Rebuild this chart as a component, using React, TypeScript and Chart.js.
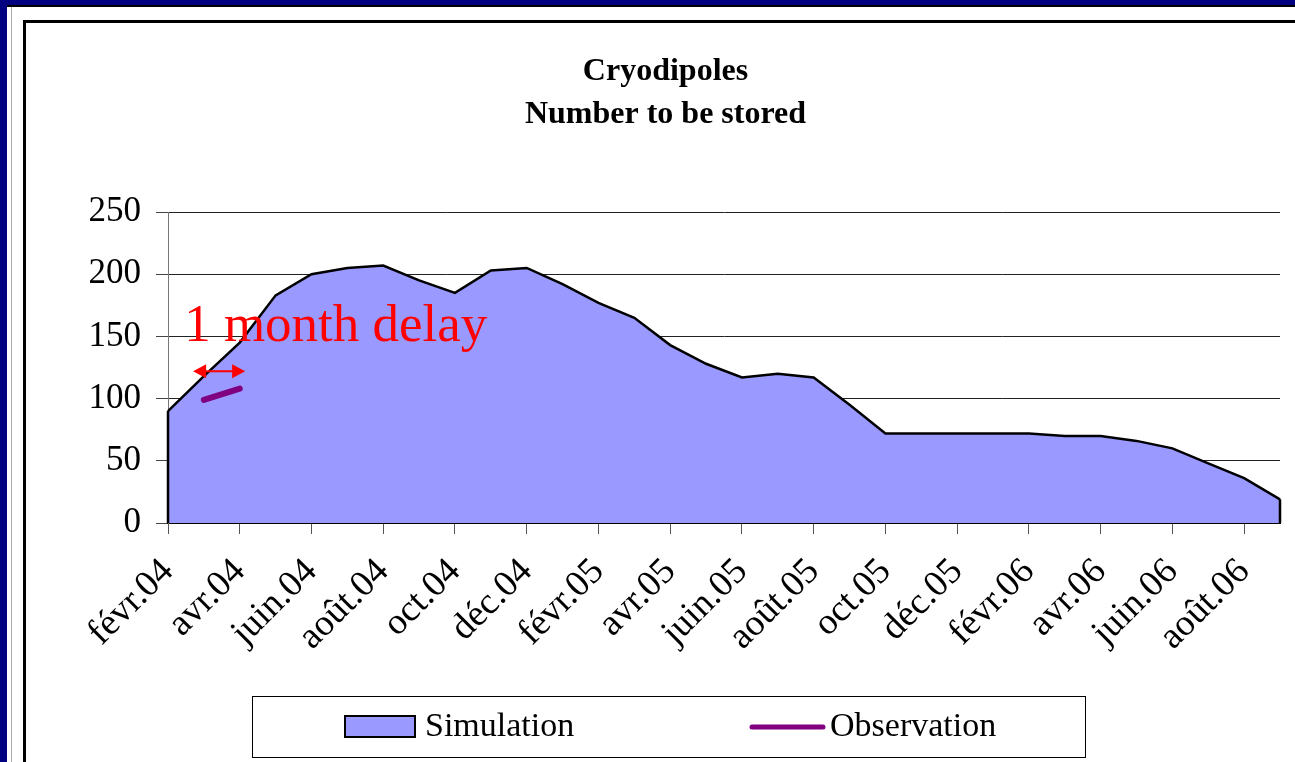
import React, { useEffect, useRef } from 'react';
import { Chart, registerables } from 'chart.js';

Chart.register(...registerables);

const months = [
  'févr.04', 'mars.04', 'avr.04', 'mai.04', 'juin.04', 'juil.04', 'août.04', 'sept.04',
  'oct.04', 'nov.04', 'déc.04', 'janv.05', 'févr.05', 'mars.05', 'avr.05', 'mai.05',
  'juin.05', 'juil.05', 'août.05', 'sept.05', 'oct.05', 'nov.05', 'déc.05', 'janv.06',
  'févr.06', 'mars.06', 'avr.06', 'mai.06', 'juin.06', 'juil.06', 'août.06', 'sept.06',
];

const simulation = [
  90, 118, 145, 183, 200, 205, 207, 195, 185, 203, 205, 192, 177, 165, 143, 128,
  117, 120, 117, 95, 72, 72, 72, 72, 72, 70, 70, 66, 60, 48, 36, 19,
];

const observation: (number | null)[] = [
  null, 99, 108, null, null, null, null, null, null, null, null, null, null, null, null, null,
  null, null, null, null, null, null, null, null, null, null, null, null, null, null, null, null,
];

const yMin = 0;
const yMax = 250;
const yStep = 50;

const titleLines = ['Cryodipoles', 'Number to be stored'];
const seriesNames = ['Simulation', 'Observation'];
const noteText = '1 month delay';

const SERIF = "'Liberation Serif', 'Times New Roman', serif";
const AREA_FILL = '#9999FF';
const OBS_COLOR = '#800080';

const edgePlugin = {
  id: 'areaEdges',
  afterDatasetsDraw(chart: any) {
    const meta = chart.getDatasetMeta(1);
    const pts = meta.data;
    if (!pts || !pts.length) return;
    const y0 = chart.scales.y.getPixelForValue(0);
    const ctx = chart.ctx;
    ctx.save();
    ctx.strokeStyle = '#000';
    ctx.lineWidth = 2.5;
    ctx.beginPath();
    ctx.moveTo(pts[0].x, pts[0].y);
    ctx.lineTo(pts[0].x, y0);
    ctx.moveTo(pts[pts.length - 1].x, pts[pts.length - 1].y);
    ctx.lineTo(pts[pts.length - 1].x, y0);
    ctx.stroke();
    ctx.restore();
  },
};

const notePlugin = {
  id: 'delayNote',
  afterDraw(chart: any) {
    const { x, y } = chart.scales;
    const ctx = chart.ctx;
    ctx.save();
    ctx.strokeStyle = '#ff0000';
    ctx.fillStyle = '#ff0000';
    const x1 = x.getPixelForValue(0.7);
    const x2 = x.getPixelForValue(2.15);
    const yy = y.getPixelForValue(122);
    ctx.lineWidth = 2;
    ctx.beginPath();
    ctx.moveTo(x1 + 8, yy);
    ctx.lineTo(x2 - 8, yy);
    ctx.stroke();
    ctx.beginPath();
    ctx.moveTo(x1, yy);
    ctx.lineTo(x1 + 13, yy - 7);
    ctx.lineTo(x1 + 13, yy + 7);
    ctx.closePath();
    ctx.fill();
    ctx.beginPath();
    ctx.moveTo(x2, yy);
    ctx.lineTo(x2 - 13, yy - 7);
    ctx.lineTo(x2 - 13, yy + 7);
    ctx.closePath();
    ctx.fill();
    ctx.font = `53px ${SERIF}`;
    ctx.textAlign = 'left';
    ctx.textBaseline = 'alphabetic';
    ctx.fillText(noteText, x.getPixelForValue(0.45), y.getPixelForValue(146));
    ctx.restore();
  },
};

const legendPlugin = {
  id: 'boxLegend',
  afterDraw(chart: any) {
    const ctx = chart.ctx;
    const ds = chart.data.datasets;
    const sim = ds[1];
    const obs = ds[0];
    ctx.save();
    ctx.strokeStyle = '#000';
    ctx.lineWidth = 1;
    ctx.strokeRect(226.5, 673.5, 833, 61);
    const cy = 704;
    ctx.fillStyle = sim.backgroundColor;
    ctx.fillRect(319, 693, 70, 21);
    ctx.lineWidth = 2;
    ctx.strokeRect(319, 693, 70, 21);
    ctx.strokeStyle = obs.borderColor;
    ctx.lineWidth = 5;
    ctx.lineCap = 'round';
    ctx.beginPath();
    ctx.moveTo(726, cy);
    ctx.lineTo(797, cy);
    ctx.stroke();
    ctx.fillStyle = '#000';
    ctx.font = `34px ${SERIF}`;
    ctx.textBaseline = 'middle';
    ctx.textAlign = 'left';
    ctx.fillText(sim.label, 399, cy);
    ctx.fillText(obs.label, 804, cy);
    ctx.restore();
  },
};

export default function App() {
  const ref = useRef<HTMLCanvasElement | null>(null);

  useEffect(() => {
    if (!ref.current) return;
    const chart = new Chart(ref.current, {
      type: 'line',
      data: {
        labels: months,
        datasets: [
          {
            label: seriesNames[1],
            data: observation,
            borderColor: OBS_COLOR,
            backgroundColor: OBS_COLOR,
            borderWidth: 6,
            borderCapStyle: 'round',
            pointRadius: 0,
            fill: false,
            order: 1,
            yAxisID: 'y',
          },
          {
            label: seriesNames[0],
            data: simulation,
            borderColor: '#000',
            backgroundColor: AREA_FILL,
            borderWidth: 2.5,
            pointRadius: 0,
            fill: 'origin',
            tension: 0,
            order: 2,
            yAxisID: 'y',
          },
        ],
      },
      options: {
        animation: false,
        responsive: false,
        maintainAspectRatio: false,
        layout: { padding: 0 },
        plugins: {
          legend: { display: false },
          tooltip: { enabled: false },
          title: {
            display: true,
            text: titleLines,
            color: '#000',
            font: { family: SERIF, size: 32, weight: 'bold', lineHeight: 1.35 },
            padding: { top: 27, bottom: 75.6 },
          },
        },
        scales: {
          x: {
            type: 'category',
            offset: false,
            border: { display: true, color: '#000', width: 2 },
            grid: {
              display: true,
              drawOnChartArea: false,
              drawTicks: true,
              tickLength: 11,
              tickColor: (c: any) => (c.index % 2 === 0 ? '#555' : 'rgba(0,0,0,0)'),
            },
            ticks: {
              autoSkip: false,
              maxRotation: 45,
              minRotation: 45,
              padding: 16,
              color: '#000',
              font: { family: SERIF, size: 37 },
              callback: (_v: any, i: number) => (i % 2 === 0 ? months[i] : ''),
            },
            afterFit: (s: any) => {
              s.height = 239;
              s.paddingLeft = 0;
              s.paddingRight = 0;
            },
          },
          y: {
            min: yMin,
            max: yMax,
            position: 'left',
            border: { display: true, color: '#777', width: 1 },
            grid: {
              color: '#222',
              lineWidth: 1,
              tickLength: 12,
              tickColor: '#444',
            },
            ticks: {
              stepSize: yStep,
              padding: 15,
              color: '#000',
              font: { family: SERIF, size: 35 },
            },
            afterFit: (s: any) => {
              s.width = 142;
            },
          },
          pad: {
            position: 'right',
            display: true,
            grid: { display: false },
            border: { display: false },
            ticks: { display: false },
            afterFit: (s: any) => {
              s.width = 25;
              s.paddingTop = 0;
              s.paddingBottom = 0;
            },
          },
        },
      },
      plugins: [edgePlugin, notePlugin, legendPlugin],
    } as any);
    return () => chart.destroy();
  }, []);

  return (
    <div
      style={{
        position: 'fixed',
        left: 0,
        top: 0,
        width: 1295,
        height: 762,
        background: '#000080',
        overflow: 'hidden',
      }}
    >
      <div
        style={{
          position: 'absolute',
          left: 7,
          top: 5,
          width: 1400,
          height: 900,
          background: '#fff',
          borderTop: '2px solid #000',
        }}
      />
      <div
        style={{
          position: 'absolute',
          left: 11,
          top: 7,
          width: 1,
          height: 900,
          background: '#aaa',
        }}
      />
      <div
        style={{
          position: 'absolute',
          left: 23,
          top: 20,
          width: 1400,
          height: 900,
          borderTop: '3px solid #000',
          borderLeft: '3px solid #000',
          background: '#fff',
        }}
      >
        <canvas ref={ref} width={1279} height={739} style={{ display: 'block', width: 1279, height: 739 }} />
      </div>
    </div>
  );
}
